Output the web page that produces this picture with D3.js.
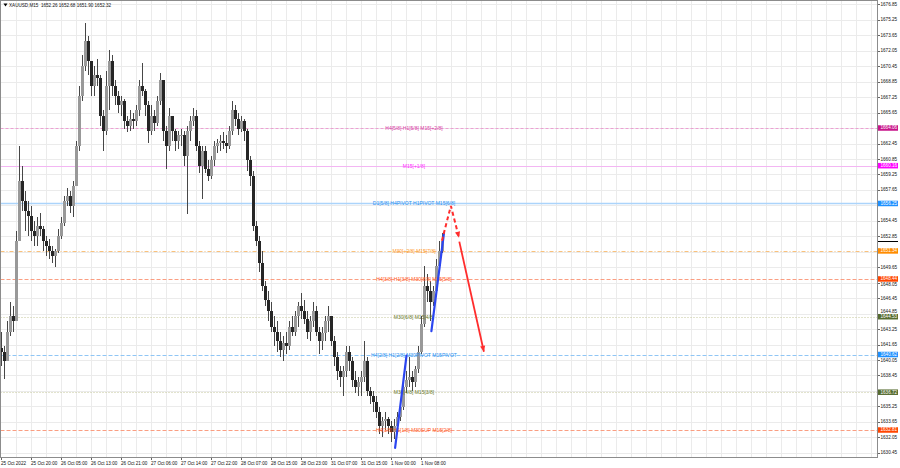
<!DOCTYPE html>
<html><head><meta charset="utf-8">
<script src="https://cdn.jsdelivr.net/npm/d3@7"></script>
<style>html,body{margin:0;padding:0;background:#fff;}svg{display:block;}</style>
</head><body>
<svg id="c" width="900" height="468"></svg>
<script>
// ---------------- DATA ----------------
const symbolTitle = "XAUUSD,M15";
const lastBar = [1652.26, 1652.68, 1651.90, 1652.32];

const opens = [
1641.3,1640.9,1639.9,1643.0,1644.6,1644.1,1652.4,1658.6,1656.5,1655.5,
1655.0,1653.4,1652.9,1653.9,1653.6,1652.4,1651.8,1651.3,1650.8,1651.3,
1652.9,1654.2,1656.5,1657.0,1656.0,1658.1,1662.2,1667.4,1670.5,1673.1,
1671.0,1668.4,1669.5,1669.2,1665.3,1663.8,1668.4,1671.0,1668.4,1667.4,
1666.4,1666.9,1664.8,1664.3,1665.0,1664.8,1665.9,1668.4,1667.9,1666.4,
1663.8,1665.3,1664.6,1666.9,1669.0,1663.8,1662.2,1665.3,1663.8,1662.7,
1663.3,1663.3,1661.2,1663.8,1664.8,1665.3,1662.2,1660.1,1661.7,1659.8,
1659.1,1660.7,1662.2,1662.5,1662.7,1662.5,1662.2,1663.8,1665.9,1665.0,
1664.0,1664.8,1663.8,1660.7,1659.1,1653.9,1652.4,1650.1,1647.7,1646.3,
1645.1,1643.5,1643.0,1642.0,1641.1,1641.8,1641.5,1643.5,1643.0,1644.6,
1645.6,1645.1,1644.3,1643.0,1644.1,1645.1,1643.0,1642.0,1642.8,1644.1,
1644.6,1642.0,1640.4,1638.9,1638.3,1638.9,1640.9,1639.9,1638.0,1637.3,
1637.8,1638.3,1639.9,1636.8,1636.3,1635.7,1634.7,1633.2,1633.7,1633.9,
1633.2,1632.6,1633.2,1634.2,1635.2,1637.3,1638.0,1638.3,1637.8,1639.1,
1640.9,1643.8,1647.7,1647.2,1646.1,1647.2,1649.8,1651.3
];
const highs = [
1643.0,1641.5,1644.1,1646.1,1645.6,1653.4,1662.2,1660.1,1657.5,1656.5,
1656.0,1654.4,1654.9,1655.3,1653.9,1652.9,1652.6,1651.8,1651.5,1653.6,
1654.9,1657.0,1657.8,1657.5,1658.6,1662.7,1668.4,1671.6,1674.9,1673.6,
1671.0,1670.5,1671.2,1669.5,1665.9,1670.0,1672.1,1671.6,1669.0,1667.9,
1667.4,1667.1,1665.3,1665.9,1665.6,1666.4,1669.0,1670.8,1668.1,1666.9,
1666.4,1665.9,1667.4,1669.8,1669.0,1664.3,1666.1,1665.3,1664.0,1663.8,
1664.0,1663.8,1664.3,1665.3,1666.1,1665.9,1662.7,1662.2,1662.2,1660.7,
1661.2,1662.7,1662.9,1663.3,1663.6,1663.3,1664.3,1666.9,1666.4,1665.6,
1665.3,1665.0,1664.0,1661.2,1659.6,1654.4,1652.9,1651.3,1648.2,1647.2,
1646.1,1644.6,1644.1,1643.0,1642.5,1643.0,1644.1,1644.6,1645.1,1646.1,
1647.0,1646.3,1645.1,1644.6,1646.1,1645.6,1643.5,1643.5,1644.6,1645.6,
1644.6,1642.5,1640.9,1639.4,1639.4,1641.5,1641.5,1640.4,1638.9,1638.3,
1638.9,1642.0,1640.4,1637.3,1636.8,1636.3,1635.2,1634.2,1634.7,1634.2,
1633.7,1633.9,1634.7,1635.7,1637.8,1638.9,1640.4,1638.9,1639.4,1641.5,
1644.6,1649.8,1649.0,1648.2,1647.7,1650.5,1652.4,1653.2
];
const lows = [
1639.4,1638.1,1639.9,1642.5,1643.0,1644.1,1652.4,1655.5,1653.4,1652.9,
1652.4,1651.8,1651.8,1652.9,1651.3,1650.8,1650.5,1650.1,1649.7,1651.1,
1652.6,1653.9,1656.0,1655.3,1654.9,1658.1,1661.7,1666.9,1670.0,1669.5,
1667.4,1667.4,1668.4,1664.3,1661.7,1663.3,1665.9,1667.4,1666.4,1665.6,
1665.3,1664.0,1663.6,1663.8,1664.0,1664.3,1665.3,1667.4,1665.3,1662.5,
1663.3,1663.8,1664.3,1666.4,1662.7,1659.8,1661.7,1662.7,1661.7,1661.9,
1662.2,1660.1,1655.2,1662.7,1664.3,1661.7,1659.4,1656.7,1659.4,1658.6,
1658.8,1660.1,1661.5,1661.7,1661.9,1661.5,1661.9,1663.3,1664.3,1663.3,
1663.6,1662.7,1659.6,1658.1,1653.4,1651.8,1649.2,1647.2,1645.6,1644.1,
1643.0,1641.5,1640.9,1640.4,1639.9,1640.7,1641.1,1642.5,1642.5,1643.5,
1644.3,1643.8,1642.2,1642.0,1643.5,1642.5,1640.7,1641.1,1642.0,1643.0,
1641.5,1639.4,1638.0,1637.3,1636.3,1638.3,1638.9,1637.3,1636.6,1636.3,
1636.3,1637.8,1636.3,1635.5,1634.7,1634.0,1632.4,1632.1,1632.8,1632.4,
1631.6,1631.9,1632.8,1633.7,1634.9,1636.6,1637.3,1636.8,1637.3,1638.7,
1640.7,1643.5,1646.1,1644.1,1645.6,1647.0,1649.2,1651.1
];
const closes = [
1640.9,1639.9,1643.0,1644.6,1644.1,1652.4,1658.6,1656.5,1655.5,1655.0,
1653.4,1652.9,1653.9,1653.6,1652.4,1651.8,1651.3,1650.8,1651.3,1652.9,
1654.2,1656.5,1657.0,1656.0,1658.1,1662.2,1667.4,1670.5,1673.1,1671.0,
1668.4,1669.5,1669.2,1665.3,1663.8,1668.4,1671.0,1668.4,1667.4,1666.4,
1666.9,1664.8,1664.3,1665.0,1664.8,1665.9,1668.4,1667.9,1666.4,1663.8,
1665.3,1664.6,1666.9,1669.0,1663.8,1662.2,1665.3,1663.8,1662.7,1663.3,
1663.3,1661.2,1663.8,1664.8,1665.3,1662.2,1660.1,1661.7,1659.8,1659.1,
1660.7,1662.2,1662.5,1662.7,1662.5,1662.2,1663.8,1665.9,1665.0,1664.0,
1664.8,1663.8,1660.7,1659.1,1653.9,1652.4,1650.1,1647.7,1646.3,1645.1,
1643.5,1643.0,1642.0,1641.1,1641.8,1641.5,1643.5,1643.0,1644.6,1645.6,
1645.1,1644.3,1643.0,1644.1,1645.1,1643.0,1642.0,1642.8,1644.1,1644.6,
1642.0,1640.4,1638.9,1638.3,1638.9,1640.9,1639.9,1638.0,1637.3,1637.8,
1638.3,1639.9,1636.8,1636.3,1635.7,1634.7,1633.2,1633.7,1633.9,1633.2,
1632.6,1633.2,1634.2,1635.2,1637.3,1638.0,1638.3,1637.8,1639.1,1640.9,
1643.8,1647.7,1647.2,1646.1,1647.2,1649.8,1651.3,1652.32
];

const dateLabels = ["25 Oct 2022","25 Oct 20:00","26 Oct 05:00","26 Oct 13:00","26 Oct 21:00",
  "27 Oct 06:00","27 Oct 14:00","27 Oct 22:00","28 Oct 07:00","28 Oct 15:00","28 Oct 23:00",
  "31 Oct 07:00","31 Oct 15:00","1 Nov 00:00","1 Nov 08:00"];
const dateLabelBars = [0,10,20,30,40,50,60,70,80,90,100,110,120,130,140];

const priceTicks = [1676.85,1675.25,1673.65,1672.05,1670.45,1668.85,1667.25,1665.65,1664.05,1662.45,
  1660.85,1659.25,1657.65,1656.05,1654.45,1652.85,1651.25,1649.65,1648.05,1646.45,1644.85,1643.25,
  1641.65,1640.05,1638.45,1636.85,1635.25,1633.65,1632.05,1630.45];

const levelPrices = [1664.06,1660.16,1656.25,1651.34,1648.44,1644.53,1640.62,1636.72,1632.81];
const levelTexts = ["H4[5/8] H1[5/8] M15[+2/8]","M15[+1/8]","D1[5/8] H4PIVOT H1PIVOT M15[6/8]",
  "M30[+2/8] M15[7/8]","H4[3/8] H1[3/8] M30[8/8] M15[5/8]","M30[6/8] M15[4/8]",
  "H4[2/8] H1[2/8] M30PIVOT M15PIVOT","M30[4/8] M15[3/8]","H4[1/8] H1[1/8] M30SUP M15[2/8]"];

// forecast lines: [barIndex, price]
const blueLegA = [[131.2,1630.95],[135.0,1640.5]];
const blueLegB = [[143.3,1643.05],[147.5,1653.2]];
const redDashed = [[146.8,1652.4],[149.8,1656.0],[152.5,1652.7]];
const redSolid = [[152.6,1652.3],[160.8,1640.9]];

// ---------------- STYLES ----------------
const levelStyles = [
  {line:"#ec9fd3", dash:"3,2", w:1, text:"#d63fa5", box:"#c8158a"},
  {line:"#f3b6f3", dash:null, w:1, text:"#ff2bff", box:"#ff00ff"},
  {line:"#abd4fb", dash:null, w:1.5, text:"#2a8ff0", box:"#1e90ff"},
  {line:"#f9c17c", dash:"4,2,1,2", w:1, text:"#ff9a2a", box:"#ff8c00"},
  {line:"#fa9e82", dash:"4,2", w:1, text:"#ff5a1f", box:"#ff4500"},
  {line:"#c4c79a", dash:"1,2", w:1, text:"#6b7a2a", box:"#556b2f"},
  {line:"#90c6f5", dash:"4,2", w:1, text:"#2a8ff0", box:"#1e90ff"},
  {line:"#c4c79a", dash:"1,2", w:1, text:"#6b7a2a", box:"#556b2f"},
  {line:"#fa9e82", dash:"4,2", w:1, text:"#ff5a1f", box:"#ff4500"}
];
const FONT = "'Liberation Sans', Arial, sans-serif";
const plotL = 0.5, plotR = 877.5, plotT = 0.5, plotB = 457.5;
const BOX_H = 5.5, TXT_HALF = 2.4;

const svg = d3.select("#c");
const x = d3.scaleLinear().domain([-0.5, 291.5]).range([0, 876]);
const y = d3.scaleLinear().domain([1630.45, 1676.85]).range([452.8, 4.4]);

// grid
const gGrid = svg.append("g").attr("shape-rendering","crispEdges");
gGrid.selectAll("line.h").data(priceTicks).join("line")
  .attr("x1", plotL).attr("x2", plotR)
  .attr("y1", d => Math.round(y(d))+0.5).attr("y2", d => Math.round(y(d))+0.5)
  .attr("stroke", "#ebebeb");
const vIdx = d3.range(5, 291, 5);
gGrid.selectAll("line.v").data(vIdx).join("line")
  .attr("x1", d => Math.floor(x(d))+0.5).attr("x2", d => Math.floor(x(d))+0.5)
  .attr("y1", plotT).attr("y2", plotB)
  .attr("stroke", "#ebebeb");

// level lines
const gLev = svg.append("g");
levelPrices.forEach((p, i) => {
  const s = levelStyles[i];
  const yy = Math.round(y(p)) + 0.5;
  gLev.append("line").attr("x1", plotL).attr("x2", plotR).attr("y1", yy).attr("y2", yy)
    .attr("stroke", s.line).attr("stroke-width", s.w)
    .attr("stroke-dasharray", s.dash);
});

// candles
const bars = d3.range(closes.length).map(i => ({i, o:opens[i], h:highs[i], l:lows[i], c:closes[i]}));
const gC = svg.append("g").attr("shape-rendering","crispEdges");
gC.selectAll("line.w").data(bars).join("line")
  .attr("x1", d => Math.floor(x(d.i))+0.5).attr("x2", d => Math.floor(x(d.i))+0.5)
  .attr("y1", d => y(Math.max(d.h, d.o, d.c))).attr("y2", d => y(Math.min(d.l, d.o, d.c)))
  .attr("stroke", "#474747").attr("stroke-width", 1);
gC.selectAll("rect").data(bars).join("rect")
  .attr("x", d => Math.floor(x(d.i)) - 1).attr("width", 2.6)
  .attr("y", d => y(Math.max(d.o, d.c)))
  .attr("height", d => Math.max(1, y(Math.min(d.o, d.c)) - y(Math.max(d.o, d.c))))
  .attr("fill", d => d.c >= d.o ? "#999" : "#262626");

// level texts
const gLT = svg.append("g");
levelPrices.forEach((p, i) => {
  gLT.append("text").attr("x", x(137.5)).attr("y", y(p))
    .attr("text-anchor","middle").attr("dominant-baseline","central")
    .attr("font-family", FONT).attr("font-size", 5)
    .attr("fill", levelStyles[i].text).text(levelTexts[i]);
});

// forecast lines
const line = d3.line().x(d => x(d[0])).y(d => y(d[1]));
function arrowHead(pts, color) {
  const a = pts[pts.length-2], b = pts[pts.length-1];
  const ax = x(a[0]), ay = y(a[1]), bx = x(b[0]), by = y(b[1]);
  const ang = Math.atan2(by-ay, bx-ax), L = 6, Wd = 2.6;
  const p1 = [bx - L*Math.cos(ang) + Wd*Math.sin(ang), by - L*Math.sin(ang) - Wd*Math.cos(ang)];
  const p2 = [bx - L*Math.cos(ang) - Wd*Math.sin(ang), by - L*Math.sin(ang) + Wd*Math.cos(ang)];
  svg.append("path").attr("d", `M${bx},${by}L${p1[0]},${p1[1]}L${p2[0]},${p2[1]}Z`).attr("fill", color);
}
[blueLegA, blueLegB].forEach(seg => {
  svg.append("path").attr("d", line(seg)).attr("fill","none")
    .attr("stroke","#2b45f0").attr("stroke-width",2.2).attr("stroke-linecap","round");
});
svg.append("path").attr("d", line(redDashed)).attr("fill","none")
  .attr("stroke","#ff2d2d").attr("stroke-width",2).attr("stroke-dasharray","4,3");
arrowHead(redDashed, "#ff2d2d");
svg.append("path").attr("d", line(redSolid)).attr("fill","none")
  .attr("stroke","#ff2d2d").attr("stroke-width",1.8);
arrowHead(redSolid, "#ff2d2d");

// frame
const gF = svg.append("g").attr("shape-rendering","crispEdges");
gF.append("rect").attr("x", plotL).attr("y", plotT).attr("width", plotR-plotL).attr("height", plotB-plotT)
  .attr("fill","none").attr("stroke","#8c8c8c");

// right price axis: tick labels fully under a level box are covered (as in MT4);
// those just beside a box are nudged clear of it
const visibleTicks = priceTicks.filter(t => levelPrices.every(p => Math.abs(y(t) - y(p)) > 2.6));
function tickY(t) {
  let yy = y(t);
  const need = BOX_H/2 + TXT_HALF;
  levelPrices.forEach(p => {
    const d = yy - y(p);
    if (Math.abs(d) < need) yy = y(p) + Math.sign(d) * need;
  });
  return yy;
}
const gA = svg.append("g");
gA.selectAll("line.t").data(priceTicks).join("line")
  .attr("x1", plotR).attr("x2", plotR+2.5)
  .attr("y1", d => Math.round(y(d))+0.5).attr("y2", d => Math.round(y(d))+0.5)
  .attr("stroke","#666").attr("shape-rendering","crispEdges");
gA.selectAll("text.t").data(visibleTicks).join("text")
  .attr("x", 880.5).attr("y", d => tickY(d)).attr("dominant-baseline","central")
  .attr("font-family", FONT).attr("font-size", 4.6).attr("fill","#111")
  .text(d => d.toFixed(2));
// current price marker
gA.append("line").attr("x1", plotR).attr("x2", 898).attr("y1", Math.round(y(lastBar[3]))+0.5)
  .attr("y2", Math.round(y(lastBar[3]))+0.5).attr("stroke","#000").attr("shape-rendering","crispEdges");
// level boxes
levelPrices.forEach((p, i) => {
  const yy = y(p);
  gA.append("rect").attr("x", plotR+0.5).attr("y", yy-BOX_H/2).attr("width", 20).attr("height", BOX_H)
    .attr("fill", levelStyles[i].box);
  gA.append("text").attr("x", 880.5).attr("y", yy).attr("dominant-baseline","central")
    .attr("font-family", FONT).attr("font-size", 4.6).attr("fill","#fff").text(p.toFixed(2));
});

// bottom date axis
const gD = svg.append("g");
gD.selectAll("line").data(dateLabelBars).join("line")
  .attr("x1", d => Math.floor(x(d))+0.5).attr("x2", d => Math.floor(x(d))+0.5)
  .attr("y1", plotB).attr("y2", plotB+2.5).attr("stroke","#666").attr("shape-rendering","crispEdges");
gD.selectAll("text").data(dateLabels).join("text")
  .attr("x", (d, i) => x(dateLabelBars[i]) - 0.5).attr("y", 464.5)
  .attr("font-family", FONT).attr("font-size", 4.6).attr("fill","#111").text(d => d);

// header
svg.append("path").attr("d","M3.5,3.5L7.5,3.5L5.5,6.5Z").attr("fill","#000");
svg.append("text").attr("x", 9).attr("y", 5.2).attr("dominant-baseline","central")
  .attr("font-family", FONT).attr("font-size", 4.6).attr("fill","#111")
  .attr("xml:space","preserve")
  .text(symbolTitle + "  " + lastBar.map(v => v.toFixed(2)).join(" "));
</script>
</body></html>
